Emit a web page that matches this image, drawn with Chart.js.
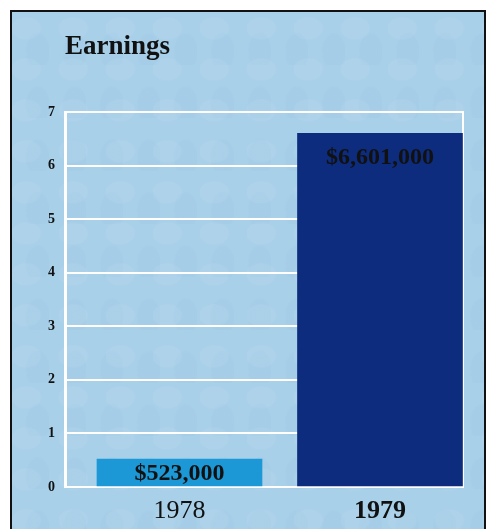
<!DOCTYPE html>
<html>
<head>
<meta charset="utf-8">
<script src="https://cdn.jsdelivr.net/npm/chart.js@4.4.0/dist/chart.umd.min.js"></script>
<style>
  html, body { margin: 0; padding: 0; background: #fff; }
  body { width: 486px; height: 529px; position: relative; overflow: hidden; }
  .frame {
    position: absolute; left: 10px; top: 10px; width: 472px; height: 540px;
    border: 2px solid #111;
    background-color: #a9d0e9;
    background-image:
      radial-gradient(ellipse at 30% 40%, rgba(255,255,255,.05) 0 14px, transparent 16px),
      radial-gradient(ellipse at 70% 75%, rgba(110,160,205,.05) 0 11px, transparent 13px);
    background-size: 47px 41px, 37px 53px;
  }
  #chart { position: absolute; left: 0; top: 0; }
</style>
</head>
<body>
<div class="frame"></div>
<canvas id="chart" width="486" height="529"></canvas>
<script>
const title = 'Earnings';
const years = ['1978', '1979'];
const earnings = [0.523, 6.601]; // millions of dollars
const valueLabels = ['$523,000', '$6,601,000'];
const yMin = 0, yMax = 7, yStep = 1;
const barColors = ['#1c98d6', '#0d2c7e'];

const SERIF = '"Liberation Serif", "Times New Roman", serif';

// title sits over the plot's left edge, not the canvas edge
const titlePlugin = {
  id: 'leftTitle',
  afterDraw(chart){
    const { ctx, chartArea } = chart;
    ctx.save();
    ctx.font = `bold 27px ${SERIF}`;
    ctx.fillStyle = '#111';
    ctx.textAlign = 'left';
    ctx.textBaseline = 'alphabetic';
    ctx.fillText(title, chartArea.left, 54);
    ctx.restore();
  }
};

// values printed inside the bars
const barLabels = {
  id: 'barLabels',
  afterDatasetsDraw(chart){
    const { ctx } = chart;
    const meta = chart.getDatasetMeta(0);
    ctx.save();
    ctx.font = `bold 24px ${SERIF}`;
    ctx.fillStyle = '#111';
    ctx.textAlign = 'center';
    ctx.textBaseline = 'middle';
    meta.data.forEach((bar, i) => {
      const y = Math.min(bar.y + 24, (bar.y + bar.base) / 2 + 1.5);
      ctx.fillText(valueLabels[i], bar.x, y);
    });
    ctx.restore();
  }
};

new Chart(document.getElementById('chart'), {
  type: 'bar',
  data: {
    datasets: [{
      data: earnings.map((v, i) => ({ x: i, y: v })),
      backgroundColor: barColors,
      borderWidth: 0,
      barThickness: 165
    }]
  },
  options: {
    responsive: false,
    animation: false,
    layout: { padding: { left: 0, right: 23, top: 112, bottom: 0 } },
    plugins: {
      legend: { display: false },
      tooltip: { enabled: false },
      title: { display: false }
    },
    scales: {
      x: {
        type: 'linear',
        offset: false,
        min: -0.571,
        max: 1.414,
        grid: { offset: false, drawOnChartArea: false, drawTicks: false },
        border: { color: '#fff', width: 2 },
        ticks: {
          stepSize: 1,
          includeBounds: false,
          padding: 9,
          color: '#111',
          callback: v => years[v] ?? '',
          font: ctx => ({ family: SERIF, size: 26, weight: ctx.tick && ctx.tick.value === 1 ? 'bold' : 'normal' })
        },
        afterFit: s => { s.height = 42; }
      },
      y: {
        min: yMin,
        max: yMax,
        grid: { color: '#fff', lineWidth: 2, drawTicks: false },
        border: { color: '#fff', width: 3 },
        ticks: {
          stepSize: yStep,
          padding: 10,
          color: '#111',
          font: { family: SERIF, size: 14, weight: 'bold' }
        },
        afterFit: s => { s.width = 65; }
      },
      y2: {
        position: 'right',
        min: yMin,
        max: yMax,
        grid: { drawOnChartArea: false, drawTicks: false },
        border: { color: '#fff', width: 2 },
        ticks: { display: false },
        afterFit: s => { s.width = 0; }
      }
    }
  },
  plugins: [barLabels, titlePlugin]
});
</script>
</body>
</html>
